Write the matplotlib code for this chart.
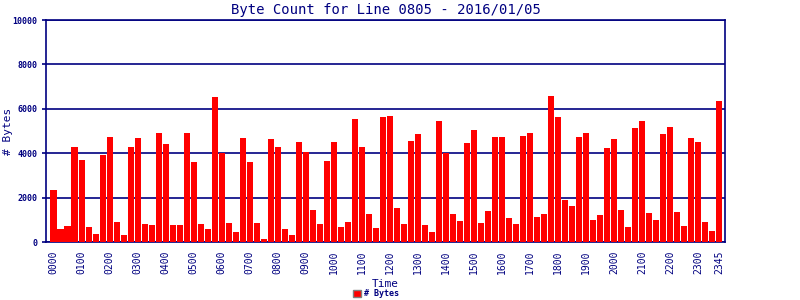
import numpy as np
import matplotlib.pyplot as plt

# 15分ごとのバイト数
times = ["%02d%02d" % (h, m) for h in range(24) for m in (0, 15, 30, 45)]
byte_counts = [
    2350, 590, 720, 4280, 3700, 675, 360, 3920, 4730, 900, 315, 4280,
    4690, 810, 765, 4910, 4410, 765, 765, 4910, 3600, 810, 590, 6530,
    4000, 855, 450, 4690, 3600, 855, 135, 4640, 4280, 590, 315, 4500,
    4050, 1440, 810, 3650, 4500, 675, 900, 5540, 4280, 1260, 630, 5630,
    5680, 1530, 810, 4550, 4860, 765, 450, 5450, 4000, 1260, 945, 4460,
    5045, 855, 1400, 4730, 4730, 1080, 810, 4775, 4910, 1125, 1260, 6580,
    5630, 1890, 1620, 4730, 4910, 990, 1215, 4230, 4640, 1440, 675, 5135,
    5450, 1300, 990, 4860, 5180, 1350, 720, 4690, 4500, 900, 495, 6350,
]
tick_labels = [t for t in times if t.endswith("00")] + ["2345"]

navy = "#000080"
plt.rcParams["font.family"] = "DejaVu Sans Mono"

fig = plt.figure(figsize=(8, 3), dpi=100)
ax = fig.add_axes([0.0575, 0.1933, 0.8488, 0.74])

x = np.arange(len(byte_counts))
ax.bar(x, byte_counts, width=0.86, color="#ff0000", zorder=3, label="# Bytes")

ax.set_xlim(-1.07, 95.86)
ax.set_ylim(0, 10000)
ax.set_yticks([0, 2000, 4000, 6000, 8000, 10000])
ax.set_yticklabels(["0", "2000", "4000", "6000", "8000", "10000"],
                   fontsize=6, fontweight="bold", color=navy)
ax.yaxis.grid(True, color=navy, linewidth=1.2, zorder=1)

tick_pos = [times.index(t) for t in tick_labels]
ax.set_xticks(tick_pos)
ax.set_xticklabels(tick_labels, rotation=90, fontsize=7, color=navy)
ax.tick_params(axis="x", length=0, pad=6)
ax.tick_params(axis="y", length=3, color=navy, width=1.2, pad=3)

for s in ax.spines.values():
    s.set_color(navy)
    s.set_linewidth(1.2)

ax.set_title("Byte Count for Line 0805 - 2016/01/05", fontsize=10, color=navy, pad=4)
ax.set_ylabel("# Bytes", fontsize=8, color=navy)
ax.yaxis.set_label_coords(-0.049, 0.5)
ax.set_xlabel("Time", fontsize=8, color=navy, labelpad=4)

leg = fig.legend(loc="lower center", bbox_to_anchor=(0.47, -0.02), frameon=False,
                 fontsize=6, handlelength=1.0, handleheight=0.8, handletextpad=0.4)
for h in leg.legend_handles:
    h.set_edgecolor("#808080")
    h.set_linewidth(1)
for t in leg.get_texts():
    t.set_color(navy)
    t.set_fontweight("bold")

plt.savefig("out.png", dpi=100)
